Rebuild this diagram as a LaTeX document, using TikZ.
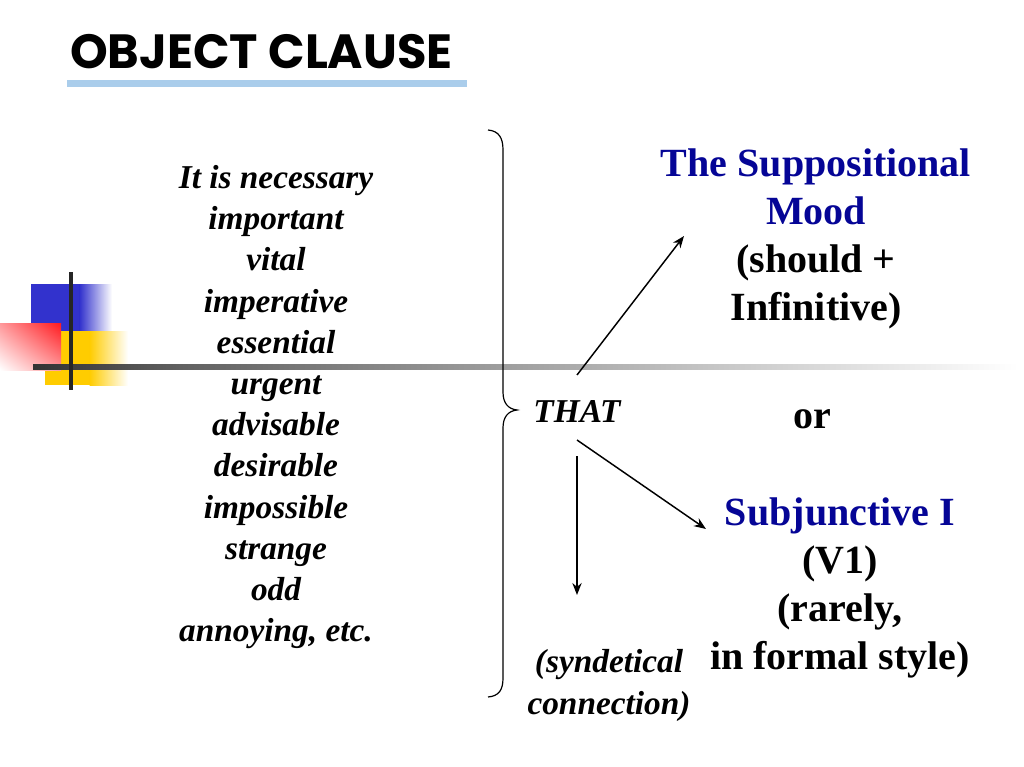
\documentclass[tikz,border=0pt]{standalone}
\usepackage{fontspec}
\setmainfont{Liberation Serif}
\newfontfamily\titlefont{Poppins}
\usetikzlibrary{arrows.meta,shadings}
\definecolor{navy}{RGB}{5,5,150}
\definecolor{sqblue}{RGB}{50,50,205}
\definecolor{sqred}{RGB}{255,25,30}
\definecolor{sqyellow}{RGB}{255,204,0}
\definecolor{ulblue}{RGB}{170,205,235}
\tikzset{
  listtxt/.style={font=\fontsize{25}{30.9}\selectfont\bfseries\itshape, align=center, inner sep=0pt},
  bigtxt/.style={font=\fontsize{30}{36}\selectfont\bfseries, align=center, inner sep=0pt},
  arr/.style={line width=1.1pt, -{Stealth[length=9pt,width=7pt]}},
  bracestyle/.style={line width=0.9pt},
}
\begin{document}
\begin{tikzpicture}[x=0.75pt,y=-0.75pt]
\useasboundingbox (0,0) rectangle (1024,767);
% decorations
\fill[sqblue] (31,284) rectangle (80,331);
\shade[left color=sqblue,right color=white] (79.5,284) rectangle (112,331);
\fill[sqyellow] (45,331) rectangle (90,385);
\shade[left color=sqyellow,right color=white] (89.5,331) rectangle (128,385);
\shade[upper right=sqred, upper left=sqred!45, lower right=sqred!45, lower left=white] (0,323) rectangle (61,370);
\shade[left color=black!80,right color=black!62] (33,364.5) rectangle (180,369.5);
\shade[left color=black!62,right color=white] (179.5,364.5) rectangle (1018,369.5);
\fill[black!85] (69,272) rectangle (73,390);
% title
\node[anchor=base west, inner sep=0pt, font=\titlefont\fontsize{36}{40}\selectfont\bfseries] (title) at (70,69) {OBJECT CLAUSE};
\fill[ulblue] (67,80) rectangle (467,87);
% list
\node[listtxt, anchor=north] (list) at (276,165) {It is necessary\\important\\vital\\imperative\\essential\\urgent\\advisable\\desirable\\impossible\\strange\\odd\\annoying, etc.};
% brace
\draw[bracestyle] (488,130) .. controls (499,131) and (503,138) .. (503,150) -- (503,392) .. controls (503,403) and (508,409) .. (517,410) .. controls (508,411) and (503,417) .. (503,428) -- (503,678) .. controls (503,690) and (499,696) .. (488,697);
% THAT
\node[listtxt, anchor=base] (that) at (577,422) {THAT};
% right texts
\node[bigtxt, anchor=north] (supp) at (816,148) {\textcolor{navy}{The Suppositional}\\\textcolor{navy}{Mood}\\(should +\\Infinitive)};
\node[bigtxt, anchor=base] (or) at (812,428) {or};
\node[bigtxt, anchor=north] (subj) at (840,497) {\textcolor{navy}{Subjunctive I}\\(V1)\\(rarely,\\in formal style)};
\node[listtxt, font=\fontsize{25}{31.5}\selectfont\bfseries\itshape, anchor=north] (synd) at (609,649) {(syndetical\\connection)};
% arrows
\coordinate (a1s) at (577,375);
\coordinate (a1e) at (684,236);
\coordinate (a2s) at (577,440);
\coordinate (a2e) at (706,529);
\coordinate (a3s) at (577,456);
\coordinate (a3e) at (577,595);
\draw[arr] (a1s) -- (a1e);
\draw[arr] (a2s) -- (a2e);
\draw[arr] (a3s) -- (a3e);
\end{tikzpicture}
\end{document}
